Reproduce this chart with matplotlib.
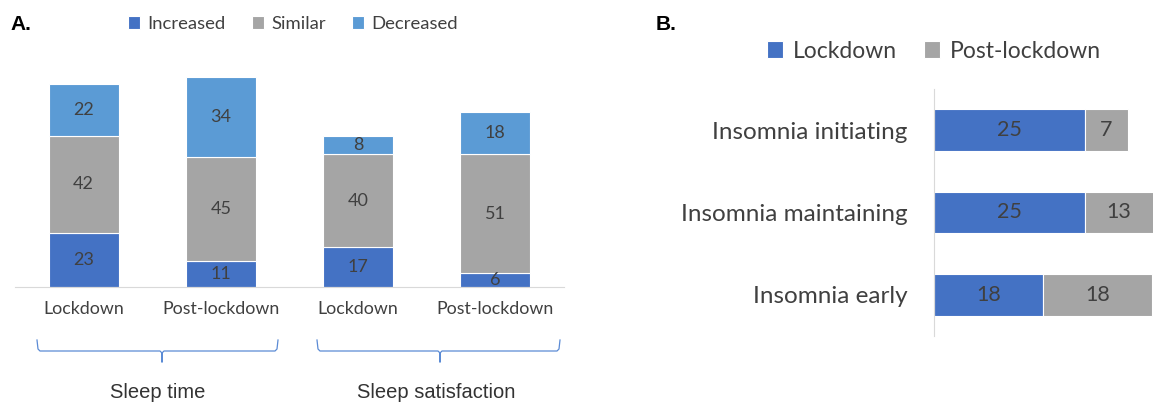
import matplotlib
matplotlib.use("Agg")
import matplotlib.pyplot as plt
import numpy as np
from matplotlib.lines import Line2D

# -----------------------------
# Data
# -----------------------------
a_categories = ["Lockdown", "Post-lockdown", "Lockdown", "Post-lockdown"]
a_groups = ["Sleep time", "Sleep satisfaction"]
a_increased = [23, 11, 17, 6]
a_similar = [42, 45, 40, 51]
a_decreased = [22, 34, 8, 18]

b_categories = ["Insomnia initiating", "Insomnia maintaining", "Insomnia early"]
b_lockdown = [25, 25, 18]
b_post = [7, 13, 18]

BLUE = "#4472C4"
GRAY = "#A5A5A5"
LIGHT = "#5B9BD5"
TXT = "#404040"
FONT = "Lato"

W, H = 1153, 403
fig = plt.figure(figsize=(W / 100, H / 100), dpi=100)


def fx(px):
    return px / W


def fy(py):
    return 1 - py / H


# -----------------------------
# Panel A
# -----------------------------
axA = fig.add_axes([fx(15), fy(287), fx(549), 233 / H])
x = np.arange(len(a_categories))
inc = np.array(a_increased)
sim = np.array(a_similar)
dec = np.array(a_decreased)
kw = dict(width=0.51, edgecolor="white", linewidth=0.8)
b1 = axA.bar(x, inc, color=BLUE, label="Increased", **kw)
b2 = axA.bar(x, sim, bottom=inc, color=GRAY, label="Similar", **kw)
b3 = axA.bar(x, dec, bottom=inc + sim, color=LIGHT, label="Decreased", **kw)
for bars in (b1, b2, b3):
    axA.bar_label(bars, label_type="center", color=TXT, fontsize=13, family=FONT)
axA.set_xlim(-0.5, 3.5)
axA.set_ylim(0, 100)
axA.set_xticks(x)
axA.set_xticklabels(a_categories, family=FONT, fontsize=12.8, color=TXT)
axA.tick_params(axis="x", length=0, pad=10)
axA.set_yticks([])
for s in ["top", "right", "left"]:
    axA.spines[s].set_visible(False)
axA.spines["bottom"].set_color("#D9D9D9")

legA = fig.legend(handles=[b1, b2, b3], loc="center", bbox_to_anchor=(fx(293), fy(24)),
                  ncol=3, frameon=False, handlelength=0.65, handleheight=0.65,
                  handletextpad=0.4, columnspacing=1.4,
                  prop={"family": FONT, "size": 13.3})
for t in legA.get_texts():
    t.set_color(TXT)

# brackets under the groups
def bracket(x0, x1, xc):
    xs = [fx(x0), fx(x0 + 1), fx(x0 + 3), fx(xc - 2), fx(xc), fx(xc), fx(xc),
          fx(xc + 2), fx(x1 - 3), fx(x1 - 1), fx(x1)]
    ys = [fy(340), fy(349), fy(351), fy(351), fy(353), fy(362), fy(353),
          fy(351), fy(351), fy(349), fy(340)]
    fig.add_artist(Line2D(xs, ys, color="#5B8BD5", linewidth=0.9))

bracket(37, 278, 162)
bracket(317, 560, 440)
fig.text(fx(158), fy(392), a_groups[0], ha="center", va="center",
         family="Liberation Sans", fontsize=14.5, color="#333333")
fig.text(fx(436), fy(392), a_groups[1], ha="center", va="center",
         family="Liberation Sans", fontsize=14.5, color="#333333")
fig.text(fx(10), fy(24), "A.", ha="left", va="center",
         family="Liberation Sans", fontsize=15, weight="bold")

# -----------------------------
# Panel B
# -----------------------------
axB = fig.add_axes([fx(934), fy(336), fx(219), 247 / H])
y = np.arange(len(b_categories))
lk = np.array(b_lockdown)
pl = np.array(b_post)
kwb = dict(height=0.51, edgecolor="white", linewidth=0.8)
c1 = axB.barh(y, lk, color=BLUE, label="Lockdown", **kwb)
c2 = axB.barh(y, pl, left=lk, color=GRAY, label="Post-lockdown", **kwb)
for bars in (c1, c2):
    axB.bar_label(bars, label_type="center", color=TXT, fontsize=15.5, family=FONT)
axB.set_ylim(2.5, -0.5)
axB.set_xlim(0, 36.2)
axB.set_yticks(y)
axB.set_yticklabels(b_categories, family=FONT, fontsize=17.5, color=TXT)
axB.tick_params(axis="y", length=0, pad=19)
axB.set_xticks([])
for s in ["top", "right", "bottom"]:
    axB.spines[s].set_visible(False)
axB.spines["left"].set_color("#D9D9D9")

legB = fig.legend(handles=[c1, c2], loc="center", bbox_to_anchor=(fx(934), fy(51)),
                  ncol=2, frameon=False, handlelength=0.7, handleheight=0.7,
                  handletextpad=0.4, columnspacing=1.2,
                  prop={"family": FONT, "size": 16.5})
for t in legB.get_texts():
    t.set_color(TXT)
fig.text(fx(656), fy(24), "B.", ha="left", va="center",
         family="Liberation Sans", fontsize=15, weight="bold")

fig.savefig("out.png", dpi=100)
